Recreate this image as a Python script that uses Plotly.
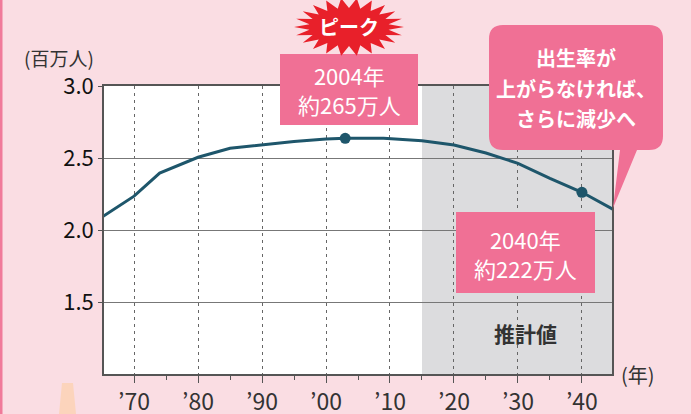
import math
import plotly.graph_objects as go

# ---- data ----
years = [1965, 1970, 1974, 1980, 1985, 1990, 1995, 2000, 2003, 2009, 2015, 2020, 2025, 2030, 2035, 2040, 2045]
population = [2.09, 2.235, 2.395, 2.505, 2.567, 2.59, 2.615, 2.632, 2.637, 2.637, 2.62, 2.59, 2.535, 2.463, 2.359, 2.262, 2.14]
marked_years = [2003, 2040]
marked_values = [2.637, 2.262]
tick_years = [1970, 1980, 1990, 2000, 2010, 2020, 2030, 2040]
tick_labels = ["’70", "’80", "’90", "’00", "’10", "’20", "’30", "’40"]
minor_years = [1975, 1985, 1995, 2005, 2015, 2025, 2035]
y_ticks = [1.5, 2.0, 2.5, 3.0]
y_tick_labels = ["1.5", "2.0", "2.5", "3.0"]
projection_start = 2015

W, H = 691, 414
L, R, T, B = 104, 612, 86, 374
FONT = "Noto Sans CJK JP"
PINK_BG = "#FADDE3"
LABEL_PINK = "#F07095"
LINE = "#1E566B"


def px(x):
    return (x - L) / (R - L)


def py(y):
    return (B - y) / (B - T)


fig = go.Figure()
fig.add_trace(go.Scatter(x=years, y=population, mode="lines",
                         line=dict(color=LINE, width=3), hoverinfo="skip", showlegend=False))
fig.add_trace(go.Scatter(x=marked_years, y=marked_values, mode="markers",
                         marker=dict(color=LINE, size=11), hoverinfo="skip", showlegend=False))

shapes = []
# projection shading
shapes.append(dict(type="rect", xref="x", yref="paper", x0=projection_start, x1=2060, y0=0, y1=1,
                   fillcolor="#DCDCDE", line=dict(width=0), layer="below"))
# left pink stripe
shapes.append(dict(type="rect", xref="paper", yref="paper", x0=px(0), x1=px(2.5), y0=py(0), y1=py(414),
                   fillcolor="#F07A9A", line=dict(width=0), layer="above"))
# peach shape bottom-left
shapes.append(dict(type="path", xref="paper", yref="paper",
                   path=f"M {px(62)},{py(383)} L {px(73)},{py(383)} L {px(76)},{py(414)} L {px(59)},{py(414)} Z",
                   fillcolor="#FCD4BC", line=dict(width=0), layer="above"))
# 2004 label box
shapes.append(dict(type="rect", xref="paper", yref="paper", x0=px(280), x1=px(418), y0=py(125), y1=py(54),
                   fillcolor=LABEL_PINK, line=dict(width=0), layer="above"))
# 2040 label box
shapes.append(dict(type="rect", xref="paper", yref="paper", x0=px(456), x1=px(595), y0=py(293), y1=py(212),
                   fillcolor=LABEL_PINK, line=dict(width=0), layer="above"))
# callout bubble with tail
bx0, bx1, by0, by1, r = 489, 663, 25, 150, 14
pts = [
    f"M {px(bx0 + r)},{py(by0)}",
    f"L {px(bx1 - r)},{py(by0)}",
    f"Q {px(bx1)},{py(by0)} {px(bx1)},{py(by0 + r)}",
    f"L {px(bx1)},{py(by1 - r)}",
    f"Q {px(bx1)},{py(by1)} {px(bx1 - r)},{py(by1)}",
    f"L {px(637)},{py(by1)}",
    f"L {px(613)},{py(208)}",
    f"L {px(620)},{py(by1)}",
    f"L {px(bx0 + r)},{py(by1)}",
    f"Q {px(bx0)},{py(by1)} {px(bx0)},{py(by1 - r)}",
    f"L {px(bx0)},{py(by0 + r)}",
    f"Q {px(bx0)},{py(by0)} {px(bx0 + r)},{py(by0)}",
    "Z",
]
shapes.append(dict(type="path", xref="paper", yref="paper", path=" ".join(pts),
                   fillcolor=LABEL_PINK, line=dict(width=0), layer="above"))
# starburst
cx, cy = 349, 27
n = 22
star = []
for i in range(2 * n):
    a = math.pi * i / n
    if i % 2 == 0:
        rx, ry = 55, 29
    else:
        rx, ry = 40, 19
    x = cx + rx * math.cos(a)
    y = cy + ry * math.sin(a)
    star.append(("M " if i == 0 else "L ") + f"{px(x)},{py(y)}")
shapes.append(dict(type="path", xref="paper", yref="paper", path=" ".join(star) + " Z",
                   fillcolor="#E8202A", line=dict(width=0), layer="above"))

ann = []


def text(x, y, s, size, color, xanchor="center", weight="normal"):
    ann.append(dict(x=px(x), y=py(y), xref="paper", yref="paper", text=s, showarrow=False,
                    xanchor=xanchor, yanchor="middle",
                    font=dict(family=FONT, size=size, color=color, weight=weight)))


text(349, 26, "ピーク", 20, "white", weight="bold")
text(349, 90, "2004年<br>約265万人", 22, "white")
text(525, 253, "2040年<br>約222万人", 22, "white")
text(576, 58, "出生率が", 20, "white", weight="bold")
text(576, 88, "上がらなければ、", 20, "white", weight="bold")
text(576, 118, "さらに減少へ", 20, "white", weight="bold")
text(525, 333, "推計値", 21, "#333333", weight="bold")
text(59, 57, "(百万人)", 19, "#333333")
text(638, 374, "(年)", 20, "#333333")

fig.update_layout(
    width=W, height=H,
    margin=dict(l=L, r=W - R, t=T, b=H - B),
    paper_bgcolor=PINK_BG, plot_bgcolor="white",
    shapes=shapes, annotations=ann,
    showlegend=False,
    font=dict(family=FONT),
)
fig.update_xaxes(
    range=[1965.3, 2044.7], tickvals=tick_years, ticktext=tick_labels,
    ticks="outside", ticklen=7, tickcolor="#555", tickwidth=1,
    tickfont=dict(family=FONT, size=23, color="#333"), ticklabelstandoff=0,
    showgrid=True, gridcolor="#666", gridwidth=1, griddash="3px,4px",
    showline=True, linecolor="#555", linewidth=1.5, mirror=True,
    minor=dict(tickvals=minor_years, ticks="outside", ticklen=4, tickcolor="#555", showgrid=False),
    zeroline=False, automargin=False,
)
fig.update_yaxes(
    range=[1.0, 3.0], tickvals=y_ticks, ticktext=y_tick_labels,
    ticks="outside", ticklen=4, tickcolor="#555",
    tickfont=dict(family=FONT, size=22, color="#111"),
    showgrid=True, gridcolor="#777", gridwidth=1,
    showline=True, linecolor="#555", linewidth=1.5, mirror=True,
    zeroline=False, automargin=False,
)

fig.write_html("out.html", config={"displayModeBar": False},
               post_script="document.body.style.margin='0';document.body.style.overflow='hidden';")
